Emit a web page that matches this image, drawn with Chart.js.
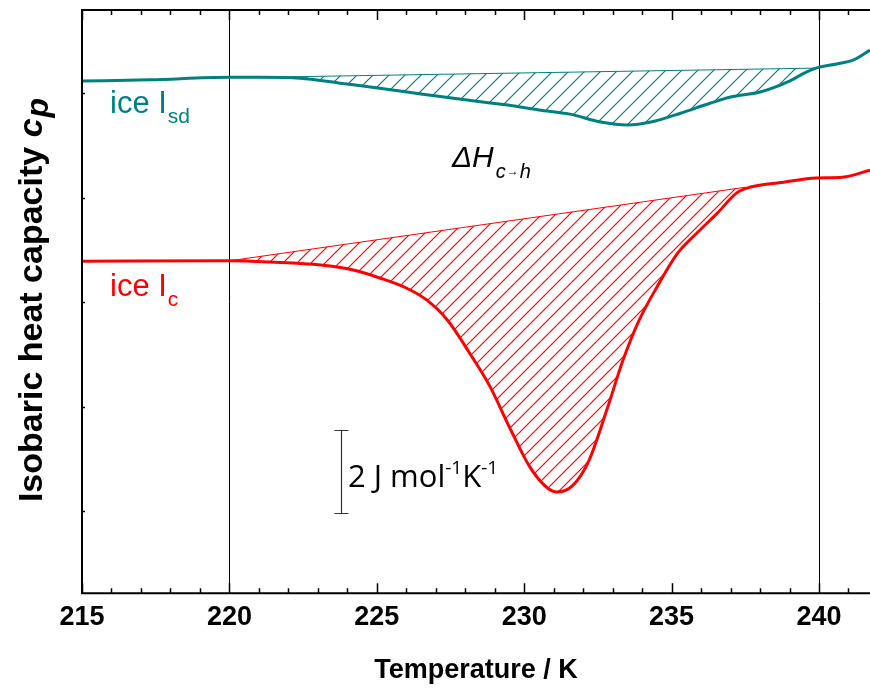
<!DOCTYPE html>
<html>
<head>
<meta charset="utf-8">
<script src="https://cdn.jsdelivr.net/npm/chart.js@4.4.1/dist/chart.umd.min.js"></script>
<style>
  html, body { margin: 0; padding: 0; background: #fff; }
  #wrap { width: 870px; height: 694px; position: relative; }
</style>
</head>
<body>
<div id="wrap"><canvas id="myChart"></canvas></div>
<script>
// temperature (K) and cp (arbitrary offset, J mol-1 K-1)
const sdTemp = [215.0, 217.3, 220.0, 221.0, 222.4, 223.75, 225.1, 226.5, 227.8, 229.5, 230.5, 231.55,
  232.6, 233.5, 234.3, 235.3, 236.3, 237.0, 238.0, 239.0, 239.5, 239.9, 240.6, 241.15, 241.73];
const sdCp = [12.79, 12.82, 12.88, 12.88, 12.86, 12.74, 12.62, 12.48, 12.36, 12.21, 12.10, 12.00,
  11.81, 11.74, 11.81, 12.02, 12.26, 12.41, 12.53, 12.79, 12.98, 13.10, 13.20, 13.29, 13.53];
const sdBaseTemp = [221.0, 239.9];
const sdBaseCp = [12.88, 13.10];

const icTemp = [215.0, 220.0, 221.4, 223.1, 224.2, 225.1, 226.0, 226.7, 227.4, 228.15, 228.85, 229.5,
  230.2, 230.8, 231.1, 231.65, 232.2, 232.8, 233.35, 233.9, 234.5, 235.2, 235.85, 236.55, 237.2,
  237.65, 238.8, 239.9, 240.8, 241.73];
const icCp = [8.48, 8.49, 8.46, 8.39, 8.27, 8.08, 7.84, 7.55, 7.07, 6.28, 5.47, 4.51,
  3.55, 3.05, 2.96, 3.12, 3.72, 4.92, 6.11, 7.07, 7.86, 8.67, 9.15, 9.63, 10.11,
  10.25, 10.37, 10.47, 10.49, 10.66];
const icBaseTemp = [220.0, 237.5];
const icBaseCp = [8.49, 10.25];

const xTicks = [215, 220, 225, 230, 235, 240];
const yTicks = [2.5, 5, 7.5, 10, 12.5];
const refLines = [220, 240];
const scaleBar = { t: 223.8, low: 2.45, high: 4.45 };

const TEAL = "#008080";
const RED = "#ff0000";

function pts(xs, ys) {
  return xs.map((t, i) => ({ x: t, y: ys[i] }));
}

//hatch pattern "/"
function hatch(color, size) {
  const c = document.createElement("canvas");
  c.width = size;
  c.height = size;
  const g = c.getContext("2d");
  g.strokeStyle = color;
  g.lineWidth = 1.2;
  g.beginPath();
  g.moveTo(-2, size + 2); g.lineTo(size + 2, -2);
  g.moveTo(-size / 2 - 2, size / 2 + 2); g.lineTo(size / 2 + 2, -size / 2 - 2);
  g.moveTo(size / 2 - 2, size * 1.5 + 2); g.lineTo(size * 1.5 + 2, size / 2 - 2);
  g.stroke();
  return g.createPattern(c, "repeat");
}

function drawRich(ctx, parts, x, y) {
  let cx = x;
  parts.forEach((p) => {
    ctx.font = p.font;
    ctx.fillText(p.text, cx, y + (p.dy || 0));
    cx += ctx.measureText(p.text).width + (p.gap || 0);
  });
  return cx - x;
}

function richWidth(ctx, parts) {
  let w = 0;
  parts.forEach((p) => {
    ctx.font = p.font;
    w += ctx.measureText(p.text).width + (p.gap || 0);
  });
  return w;
}

const decor = {
  id: "decor",
  beforeDatasetsDraw(chart) {
    const { ctx, chartArea: a, scales: { x } } = chart;
    ctx.save();
    ctx.strokeStyle = "#000";
    ctx.lineWidth = 1;
    refLines.forEach((t) => {
      const px = Math.round(x.getPixelForValue(t)) + 0.5;
      ctx.beginPath();
      ctx.moveTo(px, a.top);
      ctx.lineTo(px, a.bottom);
      ctx.stroke();
    });
    ctx.restore();
  },
  afterDatasetsDraw(chart) {
    const { ctx, chartArea: a, scales: { x, y } } = chart;
    ctx.save();
    // frame
    ctx.strokeStyle = "#000";
    ctx.lineWidth = 2;
    ctx.beginPath();
    ctx.moveTo(a.right, a.top);
    ctx.lineTo(a.left, a.top);
    ctx.lineTo(a.left, a.bottom);
    ctx.lineTo(a.right, a.bottom);
    ctx.stroke();
    // inward ticks
    ctx.lineWidth = 1.5;
    for (let t = 215; t <= x.max; t++) {
      const px = Math.round(x.getPixelForValue(t)) + 0.5;
      const len = t % 5 === 0 ? 10 : 5;
      ctx.beginPath();
      ctx.moveTo(px, a.bottom);
      ctx.lineTo(px, a.bottom - len);
      ctx.moveTo(px, a.top);
      ctx.lineTo(px, a.top + len);
      ctx.stroke();
    }
    yTicks.forEach((v) => {
      const py = Math.round(y.getPixelForValue(v)) + 0.5;
      ctx.beginPath();
      ctx.moveTo(a.left, py);
      ctx.lineTo(a.left + 3, py);
      ctx.stroke();
    });

    // scale bar
    const bx = Math.round(x.getPixelForValue(scaleBar.t)) + 0.5;
    const by1 = Math.round(y.getPixelForValue(scaleBar.high)) + 0.5;
    const by2 = Math.round(y.getPixelForValue(scaleBar.low)) + 0.5;
    ctx.strokeStyle = "#333";
    ctx.lineWidth = 1.2;
    ctx.beginPath();
    ctx.moveTo(bx, by1); ctx.lineTo(bx, by2);
    ctx.moveTo(bx - 7, by1); ctx.lineTo(bx + 7, by1);
    ctx.moveTo(bx - 7, by2); ctx.lineTo(bx + 7, by2);
    ctx.stroke();

    ctx.textBaseline = "alphabetic";
    ctx.textAlign = "left";
    ctx.fillStyle = "#000";
    const sb = "'Open Sans', sans-serif";
    drawRich(ctx, [
      { text: "2 J mol", font: "31px " + sb },
      { text: "-1", font: "19px " + sb, dy: -13 },
      { text: "K", font: "31px " + sb },
      { text: "-1", font: "19px " + sb, dy: -13 },
    ], x.getPixelForValue(224.02), y.getPixelForValue(3.08));

    const ls = "'Liberation Sans', Arial, sans-serif";
    ctx.fillStyle = TEAL;
    drawRich(ctx, [
      { text: "ice I", font: "31px " + ls, gap: 1 },
      { text: "sd", font: "21px " + ls, dy: 10 },
    ], x.getPixelForValue(215.95), y.getPixelForValue(12.02));

    ctx.fillStyle = RED;
    drawRich(ctx, [
      { text: "ice I", font: "31px " + ls, gap: 1 },
      { text: "c", font: "21px " + ls, dy: 10 },
    ], x.getPixelForValue(215.95), y.getPixelForValue(7.65));

    ctx.fillStyle = "#000";
    drawRich(ctx, [
      { text: "ΔH", font: "italic 30px " + ls, gap: 2 },
      { text: "c", font: "italic 20px " + ls, dy: 11, gap: 1 },
      { text: "→", font: "12px " + ls, dy: 8, gap: 1 },
      { text: "h", font: "italic 20px " + ls, dy: 11 },
    ], x.getPixelForValue(227.55), y.getPixelForValue(10.73));

    // y title
    const yParts = [
      { text: "Isobaric heat capacity ", font: "bold 34px " + ls },
      { text: "c", font: "italic bold 34px " + ls, gap: 1 },
      { text: "p", font: "italic bold 32px " + ls, dy: 6 },
    ];
    const w = richWidth(ctx, yParts);
    ctx.translate(42, 300);
    ctx.rotate(-Math.PI / 2);
    drawRich(ctx, yParts, -w / 2, 0);
    ctx.restore();
  },
};

const tealHatch = hatch(TEAL, 16);
const redHatch = hatch(RED, 14);

const lineBase = { pointRadius: 0, cubicInterpolationMode: "monotone" };

const config = {
  type: "line",
  data: {
    datasets: [
      { ...lineBase, label: "ice Isd baseline", data: pts(sdBaseTemp, sdBaseCp), borderColor: TEAL, borderWidth: 1, fill: false },
      { ...lineBase, label: "ice Isd", data: pts(sdTemp, sdCp), borderColor: TEAL, borderWidth: 3, backgroundColor: tealHatch, fill: 0 },
      { ...lineBase, label: "ice Ic baseline", data: pts(icBaseTemp, icBaseCp), borderColor: RED, borderWidth: 1, fill: false },
      { ...lineBase, label: "ice Ic", data: pts(icTemp, icCp), borderColor: RED, borderWidth: 3, backgroundColor: redHatch, fill: 2 },
    ],
  },
  options: {
    responsive: true,
    maintainAspectRatio: false,
    animation: false,
    devicePixelRatio: 1,
    layout: { padding: { left: 82, right: 0, top: 10, bottom: 3 } },
    plugins: {
      legend: { display: false },
      tooltip: { enabled: false },
    },
    scales: {
      x: {
        type: "linear",
        min: 215,
        max: 241.73,
        afterBuildTicks: (s) => { s.ticks = xTicks.map((v) => ({ value: v })); },
        grid: { display: false, drawTicks: false },
        border: { display: false },
        ticks: {
          color: "#000",
          padding: 8,
          maxRotation: 0,
          autoSkip: false,
          font: { family: "'Liberation Sans', Arial, sans-serif", size: 27, weight: "bold" },
        },
        title: {
          display: true,
          text: "Temperature / K",
          color: "#000",
          padding: { top: 13, bottom: 4 },
          font: { family: "'Liberation Sans', Arial, sans-serif", size: 27, weight: "bold" },
        },
      },
      y: {
        type: "linear",
        display: false,
        min: 0.54,
        max: 14.49,
      },
    },
  },
  plugins: [decor],
};

const ctx = document.getElementById("myChart").getContext("2d");
new Chart(ctx, config);
</script>
</body>
</html>
